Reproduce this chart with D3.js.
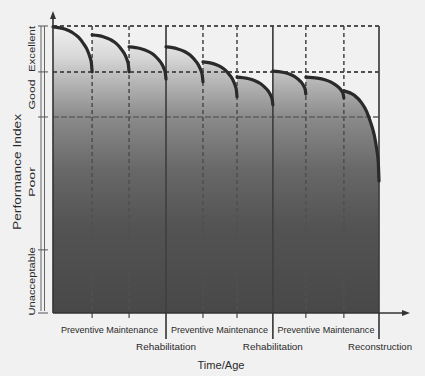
<!DOCTYPE html>
<html><head><meta charset="utf-8">
<script src="https://cdn.jsdelivr.net/npm/d3@7"></script>
<style>
html,body{margin:0;padding:0;background:#f1f1f1;}
svg{display:block;}
text{font-family:"Liberation Sans",Arial,sans-serif;fill:#2a2a2a;}
</style></head>
<body>
<script>
// ---- data ----
// time at which each treatment occurs (segment boundaries)
const eventTimes = [0, 1.08, 2.1, 3.12, 4.14, 5.08, 6.07, 6.98, 8.03, 9];
// treatment type at each boundary after the start
const eventTypes = ["pm","pm","rehab","pm","pm","rehab","pm","pm","recon"];
// performance index at start / end of each deterioration segment
const startValues = [99.7, 96.9, 92.7, 92.7, 87.5, 82.2, 84.3, 82.2, 77.4];
const endValues   = [84.0, 84.0, 81.5, 80.5, 75.3, 72.5, 76.3, 74.9, 46.0];
// shape of a deterioration curve within a segment (fraction of time, fraction of drop)
const shapeFrac = [0, 0.3, 0.5, 0.65, 0.77, 0.87, 0.94, 0.98, 1];
const shapeDrop = [0, 0.05, 0.13, 0.23, 0.36, 0.5, 0.66, 0.8, 1];
// condition bands on the performance index
const bandBounds = [100, 84, 68.3, 22, 0];
const bandLabels = ["Excellent", "Good", "Poor", "Unacceptable"];
// x-axis labels
const periodLabels = ["Preventive Maintenance", "Preventive Maintenance", "Preventive Maintenance"];
const treatmentLabels = ["Rehabilitation", "Rehabilitation", "Reconstruction"];

const W = 425, H = 376;
const svg = d3.select("body").append("svg").attr("width", W).attr("height", H);
const x = d3.scaleLinear().domain([0, 9]).range([53, 379]);
const y = d3.scaleLinear().domain([0, 100]).range([313, 26]);

// gradient
const defs = svg.append("defs");
const grad = defs.append("linearGradient").attr("id","g")
  .attr("gradientUnits","userSpaceOnUse").attr("x1",0).attr("x2",0)
  .attr("y1", y(100)).attr("y2", y(0));
[[0,"#f0f0f0"],[0.1,"#dadada"],[0.2,"#b4b4b4"],[0.32,"#8a8a8a"],[0.5,"#686868"],[0.7,"#535353"],[1,"#484848"]]
  .forEach(([o,c]) => grad.append("stop").attr("offset",o).attr("stop-color",c));

// build segments
const segs = [];
for (let i = 0; i < startValues.length; i++) {
  const t0 = eventTimes[i], t1 = eventTimes[i+1];
  segs.push(shapeFrac.map((f, k) => [t0 + f*(t1-t0), startValues[i] - shapeDrop[k]*(startValues[i]-endValues[i])]));
}
const line = d3.line().x(d=>x(d[0])).y(d=>y(d[1])).curve(d3.curveMonotoneX);

// area fill
let dArea = "M" + x(0) + "," + y(0);
segs.forEach(s => { dArea += "L" + line(s).slice(1); });
dArea += "L" + x(9) + "," + y(0) + "Z";
svg.append("path").attr("d", dArea).attr("fill","url(#g)");

// grid lines
const gridC = "#505050";
[bandBounds[0], bandBounds[1]].forEach(v => {
  svg.append("line").attr("x1", x(0)).attr("x2", x(9)).attr("y1", y(v)).attr("y2", y(v))
    .attr("stroke", gridC).attr("stroke-width", 2).attr("stroke-dasharray","4,3");
});
svg.append("line").attr("x1", x(0)).attr("x2", x(9)).attr("y1", y(bandBounds[2])).attr("y2", y(bandBounds[2]))
  .attr("stroke", "#606060").attr("stroke-width", 1.3).attr("stroke-dasharray","6,2");
eventTypes.forEach((tp, i) => {
  const xv = x(eventTimes[i+1]);
  if (tp === "pm") {
    svg.append("line").attr("x1", xv).attr("x2", xv).attr("y1", y(100)).attr("y2", y(0))
      .attr("stroke", gridC).attr("stroke-width", 1.6).attr("stroke-dasharray","4,3");
    svg.append("line").attr("x1", xv).attr("x2", xv).attr("y1", y(0)).attr("y2", y(0)+5)
      .attr("stroke", "#444").attr("stroke-width", 1.2);
  } else {
    svg.append("line").attr("x1", xv).attr("x2", xv).attr("y1", y(100)).attr("y2", y(0)+26)
      .attr("stroke", "#404040").attr("stroke-width", 1.7);
  }
});

// curves
segs.forEach(s => svg.append("path").attr("d", line(s)).attr("fill","none")
  .attr("stroke","#2a2a2a").attr("stroke-width",3.2).attr("stroke-linecap","round"));

// axes
svg.append("line").attr("x1", x(0)).attr("x2", x(0)).attr("y1", y(0)).attr("y2", 16)
  .attr("stroke","#333").attr("stroke-width",1.6);
svg.append("path").attr("d", `M${x(0)-3},19L${x(0)},11L${x(0)+3},19Z`).attr("fill","#333");
svg.append("line").attr("x1", x(0)).attr("x2", 404).attr("y1", y(0)).attr("y2", y(0))
  .attr("stroke","#333").attr("stroke-width",1.6);
svg.append("path").attr("d", `M402,${y(0)-3}L410,${y(0)}L402,${y(0)+3}Z`).attr("fill","#333");

// band bracket
[41, 44.5].forEach(bx => svg.append("line").attr("x1", bx).attr("x2", bx).attr("y1", y(100)).attr("y2", y(0)-2)
  .attr("stroke","#555").attr("stroke-width",0.9));
bandBounds.forEach(v => svg.append("line").attr("x1", 38).attr("x2", 48).attr("y1", y(v)).attr("y2", y(v))
  .attr("stroke","#555").attr("stroke-width",1));
const bandLen = [46, 30, 30, 68];
bandLabels.forEach((lab, i) => {
  const cy = (y(bandBounds[i]) + y(bandBounds[i+1]))/2;
  svg.append("text").attr("transform", `translate(35,${i===2?182:cy}) rotate(-90)`)
    .attr("text-anchor","middle").attr("font-size", 8.5)
    .attr("textLength", bandLen[i]).attr("lengthAdjust","spacingAndGlyphs").text(lab);
});
svg.append("text").attr("transform","translate(21,172) rotate(-90)").attr("text-anchor","middle")
  .attr("font-size", 11).attr("textLength", 116).attr("lengthAdjust","spacingAndGlyphs").text("Performance Index");

// x labels
const boundaryT = [0].concat(eventTimes.filter((t,i)=> i>0 && eventTypes[i-1] !== "pm"));
periodLabels.forEach((lab, i) => {
  const cx = (x(boundaryT[i]) + x(boundaryT[i+1]))/2;
  svg.append("text").attr("x", cx).attr("y", 333).attr("text-anchor","middle").attr("font-size", 9)
    .attr("textLength", 97).attr("lengthAdjust","spacingAndGlyphs").text(lab);
});
treatmentLabels.forEach((lab, i) => {
  svg.append("text").attr("x", x(boundaryT[i+1]) + (i===2?1:0)).attr("y", 350).attr("text-anchor","middle")
    .attr("font-size", 9).attr("textLength", i===2?64:60).attr("lengthAdjust","spacingAndGlyphs").text(lab);
});
svg.append("text").attr("x", 221).attr("y", 369).attr("text-anchor","middle").attr("font-size", 10.5)
  .attr("textLength", 47).attr("lengthAdjust","spacingAndGlyphs").text("Time/Age");
</script>
</body></html>
